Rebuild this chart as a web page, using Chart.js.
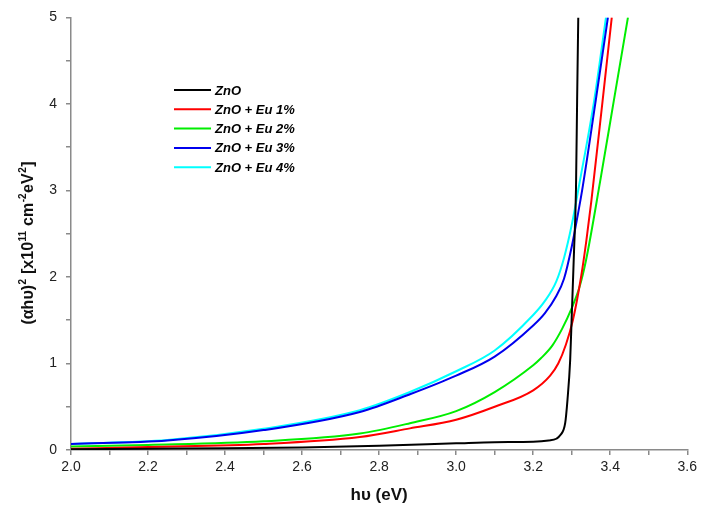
<!DOCTYPE html>
<html>
<head>
<meta charset="utf-8">
<script src="https://cdn.jsdelivr.net/npm/chart.js@4.4.0/dist/chart.umd.min.js"></script>
<style>
  html, body { margin: 0; padding: 0; background: #fff; }
  #wrap { width: 701px; height: 516px; }
</style>
</head>
<body>
<div id="wrap"><canvas id="myChart" width="701" height="516"></canvas></div>
<script>
// series labels
const labels = ['ZnO', 'ZnO + Eu 1%', 'ZnO + Eu 2%', 'ZnO + Eu 3%', 'ZnO + Eu 4%'];
const colors = ['#000000', '#ff0000', '#00ee00', '#0000ee', '#00ffff'];

// photon energy (eV) and (alpha h nu)^2 values
const znoX = [2.0, 2.2, 2.4, 2.6, 2.8, 3.0, 3.1, 3.2, 3.24, 3.26, 3.27, 3.283, 3.289, 3.296, 3.300, 3.306, 3.311, 3.314, 3.317];
const znoY = [0.01, 0.015, 0.02, 0.03, 0.05, 0.077, 0.09, 0.095, 0.11, 0.13, 0.17, 0.31, 0.58, 1.04, 1.54, 2.3, 3.0, 4.03, 5.0];

const eu1X = [2.0, 2.2, 2.5, 2.75, 2.88, 3.0, 3.1, 3.2, 3.244, 3.265, 3.285, 3.303, 3.325, 3.338, 3.351, 3.380, 3.404];
const eu1Y = [0.015, 0.035, 0.07, 0.15, 0.25, 0.35, 0.50, 0.69, 0.86, 1.0, 1.22, 1.50, 2.02, 2.42, 2.88, 4.03, 5.0];

const eu2X = [2.0, 2.2, 2.5, 2.75, 2.88, 3.0, 3.1, 3.2, 3.22, 3.25, 3.275, 3.30, 3.32, 3.337, 3.374, 3.409, 3.446];
const eu2Y = [0.04, 0.058, 0.10, 0.19, 0.31, 0.45, 0.67, 0.98, 1.06, 1.21, 1.40, 1.64, 1.88, 2.19, 3.11, 4.03, 5.0];

const eu3X = [2.0, 2.25, 2.5, 2.75, 2.88, 3.0, 3.1, 3.2, 3.23, 3.26, 3.28, 3.30, 3.315, 3.327, 3.362, 3.394];
const eu3Y = [0.07, 0.11, 0.23, 0.44, 0.645, 0.86, 1.08, 1.44, 1.58, 1.78, 1.98, 2.35, 2.7, 3.0, 4.03, 5.0];

const eu4X = [2.0, 2.25, 2.5, 2.75, 2.88, 3.0, 3.1, 3.2, 3.23, 3.26, 3.28, 3.30, 3.32, 3.358, 3.389];
const eu4Y = [0.07, 0.115, 0.245, 0.46, 0.67, 0.91, 1.15, 1.56, 1.72, 1.95, 2.22, 2.6, 3.08, 4.03, 5.0];

const seriesX = [znoX, eu1X, eu2X, eu3X, eu4X];
const seriesY = [znoY, eu1Y, eu2Y, eu3Y, eu4Y];

const datasets = labels.map((label, i) => ({
  label: label,
  data: seriesX[i].map((x, j) => ({ x: x, y: seriesY[i][j] })),
  borderColor: colors[i],
  backgroundColor: colors[i],
  borderWidth: 2,
  pointRadius: 0,
  cubicInterpolationMode: 'monotone',
  fill: false
}));

const fontFamily = '"Liberation Sans", Arial, sans-serif';

// legend drawn inside the plot, like the original
const insideLegend = {
  id: 'insideLegend',
  afterDraw(chart) {
    const ctx = chart.ctx;
    ctx.save();
    ctx.font = 'italic bold 13px ' + fontFamily;
    ctx.textBaseline = 'middle';
    chart.data.datasets.forEach((ds, i) => {
      const y = 90 + i * 19.3;
      ctx.strokeStyle = ds.borderColor;
      ctx.lineWidth = 2;
      ctx.beginPath();
      ctx.moveTo(174, y);
      ctx.lineTo(211, y);
      ctx.stroke();
      ctx.fillStyle = '#000';
      ctx.fillText(ds.label, 215, y + 1);
    });
    ctx.restore();
  }
};

// y title with real superscripts
const yTitleParts = [
  ['(αhυ)', false], ['2', true], [' [x10', false], ['11', true],
  [' cm', false], ['-2', true], ['eV', false], ['2', true], [']', false]
];
const yTitle = {
  id: 'yTitle',
  afterDraw(chart) {
    const ctx = chart.ctx;
    const big = 'bold 16px ' + fontFamily;
    const small = 'bold 10px ' + fontFamily;
    ctx.save();
    ctx.translate(27, 243);
    ctx.rotate(-Math.PI / 2);
    ctx.fillStyle = '#111';
    ctx.textBaseline = 'alphabetic';
    let total = 0;
    yTitleParts.forEach(([t, sup]) => {
      ctx.font = sup ? small : big;
      total += ctx.measureText(t).width + (sup ? 1 : 0);
    });
    let x = -total / 2;
    yTitleParts.forEach(([t, sup]) => {
      ctx.font = sup ? small : big;
      ctx.fillText(t, x + (sup ? 0.5 : 0), sup ? -1 : 6);
      x += ctx.measureText(t).width + (sup ? 1 : 0);
    });
    ctx.restore();
  }
};

const axisGrey = '#8a8a8a';
const ctx = document.getElementById('myChart').getContext('2d');
new Chart(ctx, {
  type: 'line',
  data: { datasets: datasets },
  plugins: [insideLegend, yTitle],
  options: {
    responsive: false,
    animation: false,
    layout: { padding: { top: 16, right: 13, left: 0, bottom: 0 } },
    plugins: {
      legend: { display: false },
      tooltip: { enabled: false }
    },
    scales: {
      x: {
        type: 'linear',
        min: 2.0,
        max: 3.6,
        afterFit: (scale) => { scale.height = 66; },
        ticks: {
          stepSize: 0.1,
          autoSkip: false,
          maxRotation: 0,
          padding: 4,
          color: '#222',
          font: { family: fontFamily, size: 14 },
          callback: (v) => (Math.round(v * 10) % 2 === 0 ? v.toFixed(1) : '')
        },
        grid: { drawOnChartArea: false, tickLength: 5, color: axisGrey, lineWidth: 1.5 },
        border: { color: axisGrey, width: 1.5 },
        title: {
          display: true,
          text: 'hυ (eV)',
          color: '#111',
          font: { family: fontFamily, size: 17, weight: 'bold' },
          padding: { top: 4, bottom: 10 }
        }
      },
      y: {
        min: 0,
        max: 5,
        afterFit: (scale) => { scale.width = 71; },
        ticks: {
          stepSize: 0.5,
          autoSkip: false,
          padding: 9,
          color: '#222',
          font: { family: fontFamily, size: 14 },
          callback: (v) => (Math.abs(v - Math.round(v)) < 1e-6 ? String(Math.round(v)) : '')
        },
        grid: { drawOnChartArea: false, tickLength: 5, color: axisGrey, lineWidth: 1.5 },
        border: { color: axisGrey, width: 1.5 }
      }
    }
  }
});
</script>
</body>
</html>
